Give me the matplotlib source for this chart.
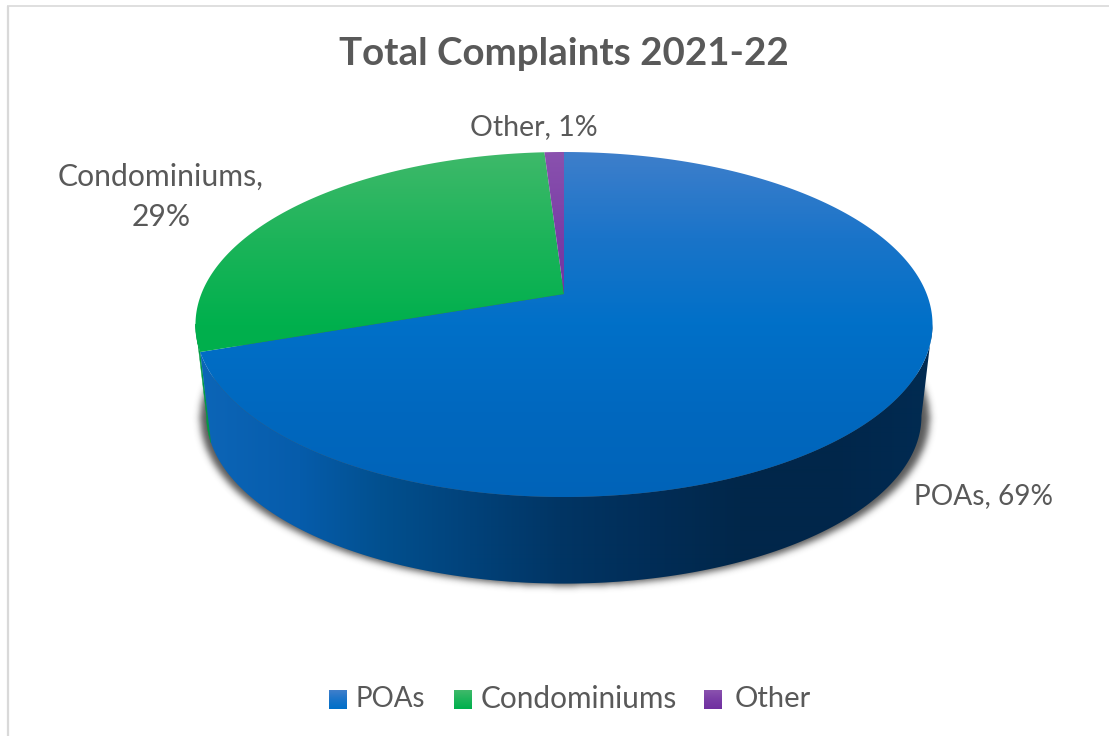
import numpy as np
import matplotlib
matplotlib.use("Agg")
import matplotlib.pyplot as plt
from matplotlib.patches import Polygon
from matplotlib.path import Path
from matplotlib.colors import LinearSegmentedColormap, to_rgb

plt.rcParams['font.family'] = ['Lato', 'DejaVu Sans']

# Chart data
categories = ["POAs", "Condominiums", "Other"]
shares = [69, 29, 1]
title = "Total Complaints 2021-22"

# Appearance
TEXT = "#595959"
FRAME = "#d9d9d9"
top_ramps = [
    ["#3f7fcb", "#1a74c9", "#0070c8", "#0068bf", "#0063b8"],
    ["#3fb96a", "#1db45a", "#00b04d", "#00ad4b", "#00aa48"],
    ["#8a52ae", "#7a3da6", "#7030a0", "#6a22a0", "#66209c"],
]
wall_stops = [(195, "#0d66b8"), (300, "#065cab"), (380, "#02508f"), (470, "#01427a"),
              (560, "#013564"), (650, "#012d57"), (740, "#01274a"), (830, "#01264a"),
              (932, "#012b52")]
green_wall = "#009a43"

# Perspective disc geometry in pixels
CX, APEX_Y, RX, RY, TILT = 564.0, 294.0, 362.7, 167.1, 0.1768
BASE_SCALE, BASE_Y = 0.97, 386.7
RIGHT_TANGENT, LEFT_TANGENT = 100.0, 260.0


def project(theta_deg, scale=1.0, apex_y=APEX_Y):
    """Map clockwise-from-north disc angles onto the tilted ellipse."""
    t = np.radians(theta_deg)
    u, v = np.sin(t), -np.cos(t)
    w = 1 - TILT * v
    return CX + scale * RX * u / w, apex_y + scale * RY * v / w


def wall_outline(start, stop):
    angles = np.linspace(start, stop, 400)
    tx, ty = project(angles)
    bx, by = project(angles[::-1], BASE_SCALE, BASE_Y)
    return np.column_stack([np.r_[tx, bx], np.r_[ty, by]])


def gaussian_blur(mask, sigma):
    radius = int(3 * sigma)
    kernel = np.exp(-0.5 * (np.arange(-radius, radius + 1) / sigma) ** 2)
    kernel /= kernel.sum()
    mask = np.apply_along_axis(np.convolve, 0, mask, kernel, mode="same")
    return np.apply_along_axis(np.convolve, 1, mask, kernel, mode="same")


fig = plt.figure(figsize=(11.09, 7.36), dpi=100)
ax = fig.add_axes([0, 0, 1, 1])
ax.axis("off")

# Frame: only the top and left edges show
ax.plot([7.5, 7.5], [736, 5.5], color=FRAME, lw=1.6, solid_capstyle="butt", zorder=1)
ax.plot([7, 1109], [5.5, 5.5], color=FRAME, lw=1.2, solid_capstyle="butt", zorder=1)

# Slice angles come straight from the shares
fractions = np.array(shares, dtype=float) / sum(shares)
edges = np.concatenate([[0], np.cumsum(fractions) * 360])

# Blurred shadow beneath the base, wider than it is deep
full = np.linspace(0, 360, 721)
bx, by = project(full, BASE_SCALE, BASE_Y)
shadow = Path(np.column_stack([CX + (bx - CX) * 1.02 + 1, by + 2]))
gx, gy = np.meshgrid(np.arange(150, 980) + 0.5, np.arange(280, 630) + 0.5)
mask = shadow.contains_points(np.column_stack([gx.ravel(), gy.ravel()])).reshape(gx.shape).astype(float)
shadow_rgba = np.zeros(mask.shape + (4,))
shadow_rgba[..., :3] = to_rgb("#303030")
shadow_rgba[..., 3] = gaussian_blur(mask, 3.5) * 0.8
ax.imshow(shadow_rgba, aspect="auto", extent=(150, 980, 630, 280), zorder=2, interpolation="bilinear")

# Side wall: green sliver first, then the blue wall shaded across its width
ax.add_patch(Polygon(wall_outline(edges[1], LEFT_TANGENT), closed=True,
                     facecolor=green_wall, edgecolor=green_wall, lw=0.3, zorder=3))

grid_x = np.arange(190, 940)
wall_rgb = np.stack([np.interp(grid_x, [p[0] for p in wall_stops],
                               [to_rgb(p[1])[k] for p in wall_stops]) for k in range(3)], axis=-1)
wall_im = ax.imshow(wall_rgb[None, :, :], aspect="auto", extent=(190, 940, 600, 300),
                    zorder=4, interpolation="bilinear")
wall_clip = Polygon(wall_outline(RIGHT_TANGENT, edges[1]), closed=True, transform=ax.transData,
                    facecolor="none", edgecolor="none")
ax.add_patch(wall_clip)
wall_im.set_clip_path(wall_clip)

# Top face: a vertical gradient clipped to each slice
for i, (start, stop) in enumerate(zip(edges[:-1], edges[1:])):
    angles = np.linspace(start, stop, max(int(stop - start) * 2, 8))
    ex, ey = project(angles)
    outline = np.column_stack([np.r_[CX, ex], np.r_[APEX_Y, ey]])
    cmap = LinearSegmentedColormap.from_list(categories[i], top_ramps[i])
    im = ax.imshow(np.linspace(0, 1, 256)[:, None], cmap=cmap, aspect="auto",
                   extent=(190, 940, 500, 150), zorder=5, interpolation="bilinear")
    clip = Polygon(outline, closed=True, transform=ax.transData, facecolor="none", edgecolor="none")
    ax.add_patch(clip)
    im.set_clip_path(clip)

# Title and data labels
ax.text(564, 54, title, ha="center", va="center", fontsize=27.7, fontweight="bold", color=TEXT, zorder=6)
label_text = [f"{c}, {s}%" for c, s in zip(categories, shares)]
ax.text(983, 496, label_text[0], ha="center", va="center", fontsize=20.2, color=TEXT, zorder=6)
ax.text(161, 197, label_text[1].replace(" ", "\n"), ha="center", va="center", fontsize=21.7,
        color=TEXT, linespacing=1.55, zorder=6)
ax.text(534, 127, label_text[2], ha="center", va="center", fontsize=20.5, color=TEXT, zorder=6)

# Legend
swatch_x = [329, 454, 704]
text_x = [355, 481, 735]
legend_size = [20.0, 21.4, 21.0]
for i, name in enumerate(categories):
    cmap = LinearSegmentedColormap.from_list(name + "_key", top_ramps[i][:3])
    ax.imshow(np.linspace(0, 1, 32)[:, None], cmap=cmap, aspect="auto",
              extent=(swatch_x[i], swatch_x[i] + 18, 709, 690), zorder=6)
    ax.text(text_x[i], 699, name, ha="left", va="center", fontsize=legend_size[i], color=TEXT, zorder=6)

ax.set_xlim(0, 1109)
ax.set_ylim(736, 0)
fig.savefig("out.png", dpi=100, facecolor="white")
